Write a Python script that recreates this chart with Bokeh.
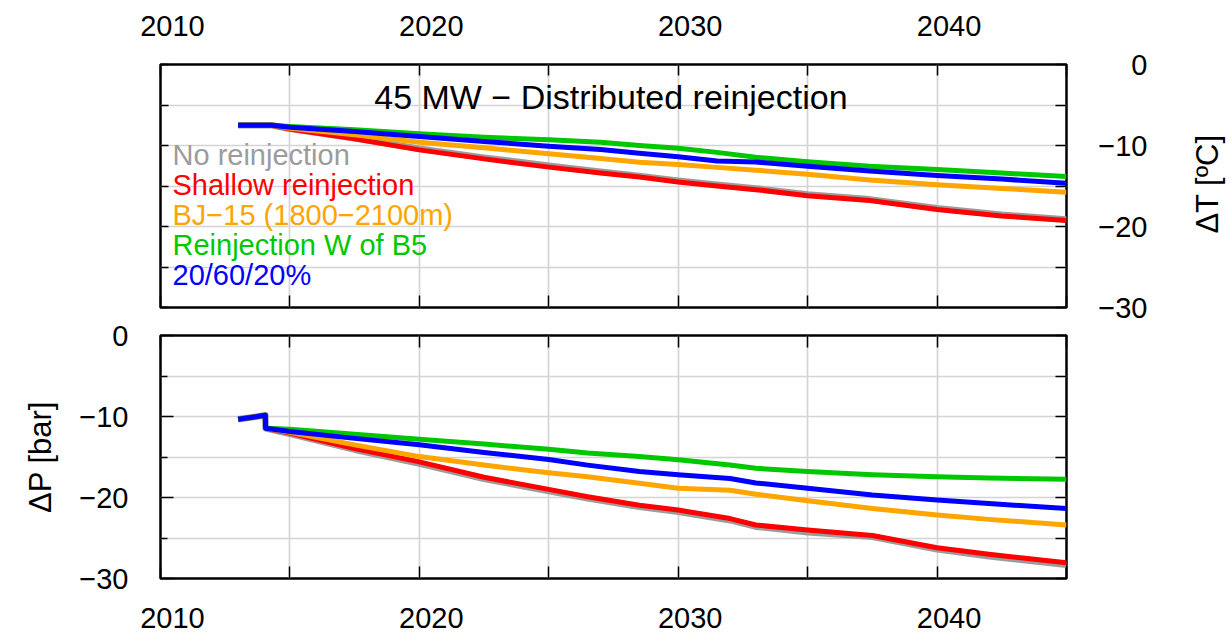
import math

from bokeh.embed import file_html
from bokeh.layouts import column, row
from bokeh.models import (BasicTickFormatter, CustomJSTickFormatter, FixedTicker, Label,
                          LinearAxis, Range1d)
from bokeh.plotting import figure
from bokeh.resources import INLINE

FONT = "Liberation Sans"

# ---------------------------------------------------------------- data
# Temperature change (top panel), degrees C
years_t = [2013.0, 2014.3, 2015.0, 2017.5, 2020.0, 2022.5, 2025.0, 2027.0, 2028.5,
           2030.0, 2031.5, 2033.0, 2035.0, 2037.4, 2040.0, 2042.5, 2045.0]
dT_none = [-7.5, -7.5, -7.95, -9.1, -10.4, -11.5, -12.5, -13.25, -13.75,
           -14.35, -14.85, -15.3, -16.05, -16.65, -17.75, -18.55, -19.15]
dT_shallow = [-7.5, -7.5, -7.98, -9.18, -10.54, -11.65, -12.67, -13.4, -13.9,
              -14.5, -15.0, -15.45, -16.2, -16.8, -17.9, -18.7, -19.26]
dT_bj15 = [-7.5, -7.5, -7.86, -8.68, -9.59, -10.29, -11.03, -11.6, -12.06,
           -12.35, -12.7, -13.05, -13.55, -14.25, -14.85, -15.3, -15.76]
dT_west_b5 = [-7.5, -7.5, -7.65, -8.07, -8.56, -8.97, -9.3, -9.6, -10.0,
              -10.35, -10.85, -11.45, -12.0, -12.55, -12.95, -13.4, -13.83]
dT_split = [-7.5, -7.5, -7.74, -8.27, -8.89, -9.5, -10.08, -10.5, -10.95,
            -11.4, -11.9, -12.05, -12.55, -13.15, -13.7, -14.15, -14.65]

# Pressure change (bottom panel), bar
years_p = [2013.0, 2014.05, 2014.06, 2015.0, 2017.5, 2020.0, 2022.5, 2025.0, 2026.5,
           2028.5, 2030.0, 2032.0, 2033.0, 2035.0, 2037.5, 2040.0, 2042.0, 2045.0]
dP_none = [-10.35, -9.85, -11.45, -12.15, -14.1, -15.8, -17.7, -19.2, -20.1,
           -21.15, -21.75, -22.8, -23.6, -24.3, -24.85, -26.4, -27.25, -28.3]
dP_shallow = [-10.35, -9.85, -11.45, -12.05, -13.95, -15.6, -17.5, -19.0, -19.9,
              -20.95, -21.55, -22.6, -23.4, -24.0, -24.7, -26.2, -27.0, -28.05]
dP_bj15 = [-10.35, -9.85, -11.45, -11.95, -13.5, -14.95, -16.0, -16.95, -17.45,
           -18.25, -18.85, -19.1, -19.6, -20.4, -21.35, -22.15, -22.7, -23.4]
dP_west_b5 = [-10.35, -9.85, -11.45, -11.58, -12.2, -12.8, -13.4, -14.05, -14.5,
              -14.95, -15.35, -16.0, -16.4, -16.8, -17.2, -17.45, -17.6, -17.75]
dP_split = [-10.35, -9.85, -11.45, -11.85, -12.7, -13.5, -14.45, -15.3, -16.0,
            -16.8, -17.2, -17.65, -18.2, -18.85, -19.7, -20.3, -20.75, -21.35]

series_names = ["No reinjection", "Shallow reinjection", "BJ\u221215 (1800\u22122100m)",
                "Reinjection W of B5", "20/60/20%"]
series_colors = ["#9c9c9c", "#ff0000", "#ffa500", "#00c800", "#0000ff"]
series_widths = [6.5, 5, 5, 5, 5]

title_text = "45 MW \u2212 Distributed reinjection"
x_label_years = [2010, 2020, 2030, 2040]
y_label_values = [0, -10, -20, -30]
dT_title = "\u0394T [\u00baC]"
dP_title = "\u0394P [bar]"

# ---------------------------------------------------------------- geometry
X0, X1 = 2010, 2045
Y0, Y1 = -30, 0
W, H = 1230, 635
FRAME_W, FRAME_H = 906, 243
LEFT, EDGE = 160, 4
TOP_FRAME_Y, BOT_FRAME_Y = 64, 335      # frame tops on the page
SPLIT = 319                              # page row where the bottom panel's canvas begins
BOT_STRIP_W = 136                        # canvas left of the bottom panel (value labels)
MAIN_W = LEFT + FRAME_W + EDGE           # width of the column holding both panels

x_ticks = list(range(2010, 2046, 5))
y_ticks = list(range(-30, 1, 5))
grid_x = x_ticks[1:-1]
grid_y = y_ticks[1:-1]

px_per_year = FRAME_W / (X1 - X0)
year_label_shift = 12 / px_per_year      # year labels sit a little right of their ticks

minus_fmt = CustomJSTickFormatter(code="return tick < 0 ? '\u2212' + (-tick) : String(tick)")


def style_panel(p, grid=True):
    p.background_fill_color = "white"
    p.border_fill_color = "white"
    if grid:
        p.outline_line_color = "black"
        p.outline_line_width = 2.5
        p.outline_line_alpha = 1.0
        p.xgrid.ticker = FixedTicker(ticks=grid_x)
        p.ygrid.ticker = FixedTicker(ticks=grid_y)
        for g in (p.xgrid, p.ygrid):
            g.grid_line_color = "#d4d4d4"
            g.grid_line_width = 1.7
    else:
        p.outline_line_color = None
        for g in (p.xgrid, p.ygrid):
            g.visible = False


def tick_axis(p, side, ticks, minor=(), tick_len=10, minor_len=0):
    """Inward tick marks only, no labels."""
    ax = LinearAxis(ticker=FixedTicker(ticks=list(ticks), minor_ticks=list(minor)),
                    formatter=CustomJSTickFormatter(code="return ''"))
    ax.major_label_text_font_size = "0px"
    ax.major_label_standoff = 0
    ax.major_tick_in = tick_len
    ax.major_tick_out = 0
    ax.minor_tick_in = minor_len
    ax.minor_tick_out = 0
    ax.major_tick_line_color = "black"
    ax.major_tick_line_width = 1.5
    ax.minor_tick_line_color = "black"
    ax.minor_tick_line_width = 1.5
    ax.axis_line_color = None
    p.add_layout(ax, side)
    return ax


def label_axis(p, side, ticks, formatter, standoff, **kw):
    """Tick labels only, no tick marks."""
    ax = LinearAxis(ticker=FixedTicker(ticks=list(ticks)), formatter=formatter, **kw)
    ax.major_tick_in = 0
    ax.major_tick_out = 0
    ax.minor_tick_in = 0
    ax.minor_tick_out = 0
    ax.axis_line_color = None
    ax.major_label_standoff = standoff
    ax.major_label_text_font = FONT
    ax.major_label_text_font_size = "29px"
    ax.major_label_text_color = "black"
    ax.axis_label_text_font = FONT
    ax.axis_label_text_font_size = "31px"
    ax.axis_label_text_font_style = "normal"
    ax.axis_label_text_color = "black"
    p.add_layout(ax, side)
    return ax


def text(p, x, y, s, size="29px", color="black", align="center", dx=0, dy=0, angle=0.0):
    p.add_layout(Label(x=x, y=y, x_offset=dx, y_offset=dy, text=s,
                       text_font=FONT, text_font_size=size, text_color=color,
                       text_align=align, text_baseline="middle", angle=angle))


common = dict(output_backend="svg", toolbar_location=None,
              x_axis_location=None, y_axis_location=None)


def value_strip(width, height, border_t, frame_left, y_range):
    """Narrow figure beside a panel, sharing its y scale; carries value labels."""
    p = figure(width=width, height=height, x_range=Range1d(0, 1), y_range=y_range,
               min_border_left=frame_left, min_border_right=0,
               min_border_top=border_t, min_border_bottom=height - border_t - FRAME_H,
               **common)
    style_panel(p, grid=False)
    return p


# ---------------------------------------------------------------- top: dT
top_h = SPLIT
top = figure(width=MAIN_W, height=top_h,
             x_range=Range1d(X0, X1), y_range=Range1d(Y0, Y1),
             min_border_left=LEFT, min_border_right=EDGE,
             min_border_top=TOP_FRAME_Y, min_border_bottom=top_h - TOP_FRAME_Y - FRAME_H,
             **common)
style_panel(top)
top.extra_x_ranges = {"years": Range1d(X0 - year_label_shift, X1 - year_label_shift)}

tick_axis(top, "above", x_ticks, tick_len=11)
label_axis(top, "above", x_label_years, BasicTickFormatter(), 29, x_range_name="years")
tick_axis(top, "below", x_ticks, tick_len=12)
tick_axis(top, "left", y_ticks, tick_len=8)
tick_axis(top, "right", y_ticks, tick_len=11)

for ys, c, w in zip([dT_none, dT_shallow, dT_bj15, dT_west_b5, dT_split],
                    series_colors, series_widths):
    top.line(years_t, ys, line_color=c, line_width=w, line_join="round")

text(top, 2027.4, -4.0, title_text, size="34px")
for i, (name, c) in enumerate(zip(series_names, series_colors)):
    text(top, X0, -11.2, name, color=c, align="left", dx=12, dy=-30 * i)

# full-height strip right of both panels: values of the top panel and its title
top_side = value_strip(W - MAIN_W, H, TOP_FRAME_Y, 81, top.y_range)
label_axis(top_side, "left", y_label_values, minus_fmt, 4)
text(top_side, 0.71, -15, dT_title, size="31px", dy=2, angle=math.pi / 2)

# ---------------------------------------------------------------- bottom: dP
bot_h = H - SPLIT
bot_left = LEFT - BOT_STRIP_W
bot_border_t = BOT_FRAME_Y - SPLIT
bot = figure(width=MAIN_W - BOT_STRIP_W, height=bot_h,
             x_range=Range1d(X0, X1), y_range=Range1d(Y0, Y1),
             min_border_left=bot_left, min_border_right=EDGE,
             min_border_top=bot_border_t, min_border_bottom=bot_h - bot_border_t - FRAME_H,
             **common)
style_panel(bot)
bot.extra_x_ranges = {"years": Range1d(X0 - year_label_shift, X1 - year_label_shift)}

tick_axis(bot, "above", x_ticks, tick_len=12)
tick_axis(bot, "below", x_ticks, tick_len=12)
label_axis(bot, "below", x_label_years, BasicTickFormatter(), 29, x_range_name="years")
tick_axis(bot, "left", [-30, -20, -10, 0], minor=[-25, -15, -5], tick_len=13, minor_len=7)
tick_axis(bot, "right", y_ticks, tick_len=11)

for ys, c, w in zip([dP_none, dP_shallow, dP_bj15, dP_west_b5, dP_split],
                    series_colors, series_widths):
    bot.line(years_p, ys, line_color=c, line_width=w, line_join="round")

# left of the bottom panel: values and the axis title
bot_side = value_strip(BOT_STRIP_W, bot_h, bot_border_t, 132, bot.y_range)
yl = label_axis(bot_side, "left", y_label_values, minus_fmt, 4, axis_label=dP_title)
yl.axis_label_standoff = 18

panels = column(top, row(bot_side, bot, spacing=0), spacing=0)
layout = row(panels, top_side, spacing=0)

with open("out.html", "w", encoding="utf-8") as f:
    f.write(file_html(layout, INLINE))
